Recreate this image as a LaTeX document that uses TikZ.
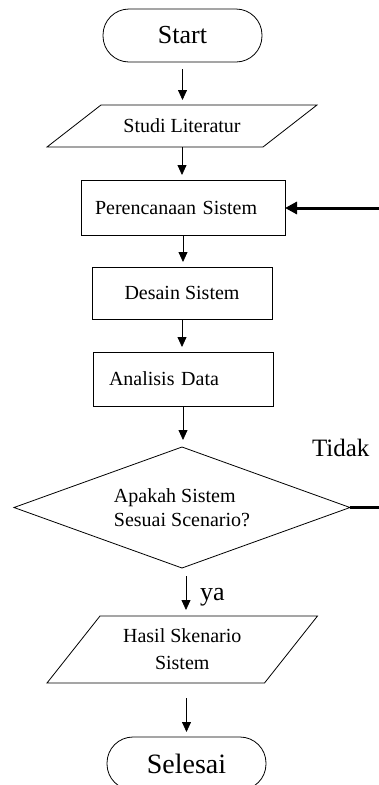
\documentclass[tikz,border=0pt]{standalone}
\usepackage{fontspec}
\setmainfont{Liberation Serif}
\usetikzlibrary{shapes.geometric,arrows.meta}
\begin{document}
\begin{tikzpicture}[x=1pt,y=-1pt,line width=0.8pt,
  every node/.style={inner sep=0pt,outer sep=0pt},
  txt/.style={font=\fontsize{20}{24}\selectfont},
  term/.style={draw,rectangle,rounded corners=26pt,minimum width=159pt,minimum height=53pt,font=\fontsize{26}{30}\selectfont},
  box/.style={draw,rectangle,txt},
  arr/.style={-{Triangle[length=10pt,width=9pt]}},
  thickarr/.style={line width=3pt,-{Triangle[length=12pt,width=12pt]}},
  lbl/.style={anchor=base west,font=\fontsize{25}{30}\selectfont}]
\useasboundingbox (0,0) rectangle (379,785);
\clip (0,0) rectangle (379,785);

% nodes
\node[term] (start) at (182.5,35.5) {Start};
\node[txt,minimum width=216pt,minimum height=42pt] (studi) at (182,126) {Studi Literatur};
\draw ([xshift=-27pt]studi.south west) -- ([xshift=27pt]studi.north west) -- ([xshift=27pt]studi.north east) -- ([xshift=-27pt]studi.south east) -- cycle;
\node[box,text width=176pt,inner xsep=14pt,align=left,minimum height=55pt] (perenc) at (183,207.5) {Perencanaan Sistem};
\node[box,minimum width=180pt,minimum height=52pt] (desain) at (182,293) {Desain Sistem};
\node[box,text width=148pt,inner xsep=16pt,align=left,minimum height=54pt] (analisis) at (183,379) {Analisis Data};
\node[draw,diamond,aspect=2.78,minimum width=336pt,minimum height=121pt,align=left,txt] (dec) at (182,507.5) {Apakah Sistem\\Sesuai Scenario?};
\node[font=\fontsize{20}{27}\selectfont,align=center,minimum width=217.5pt,minimum height=67pt] (hasil) at (182.25,649.5) {Hasil Skenario\\Sistem};
\draw ([xshift=-26.5pt]hasil.south west) -- ([xshift=26.5pt]hasil.north west) -- ([xshift=26.5pt]hasil.north east) -- ([xshift=-26.5pt]hasil.south east) -- cycle;
\node[term,font=\fontsize{28}{32}\selectfont] (selesai) at (186.5,763.5) {Selesai};

% labels
\node[lbl] (tidak) at (312,456) {Tidak};
\node[lbl,font=\fontsize{26}{30}\selectfont] (ya) at (200,600) {ya};

% connectors
\draw[arr,shorten <=7pt,shorten >=5pt] (start.south) -- (start.south |- studi.north);
\draw[arr,shorten >=5pt] (studi.south) -- (studi.south |- perenc.north);
\draw[arr,shorten >=5pt] (perenc.south) -- (perenc.south |- desain.north);
\draw[arr,shorten >=5pt] (desain.south) -- (desain.south |- analisis.north);
\draw[arr,shorten >=7pt] (analisis.south) -- (analisis.south |- dec.north);
\draw[arr,shorten <=8pt,shorten >=6pt] ([xshift=4pt]dec.south) -- ([xshift=4pt]dec.south |- hasil.north);
\draw[arr,shorten <=15pt,shorten >=5pt] (selesai.north |- hasil.south) -- (selesai.north);

% feedback stubs (loop continues beyond the frame)
\coordinate (fbout) at (379,507.5);
\coordinate (fbin) at (379,208);
\draw[line width=3pt] (dec.east) -- (fbout);
\draw[thickarr] (fbin) -- (perenc.east |- fbin);
\end{tikzpicture}
\end{document}
